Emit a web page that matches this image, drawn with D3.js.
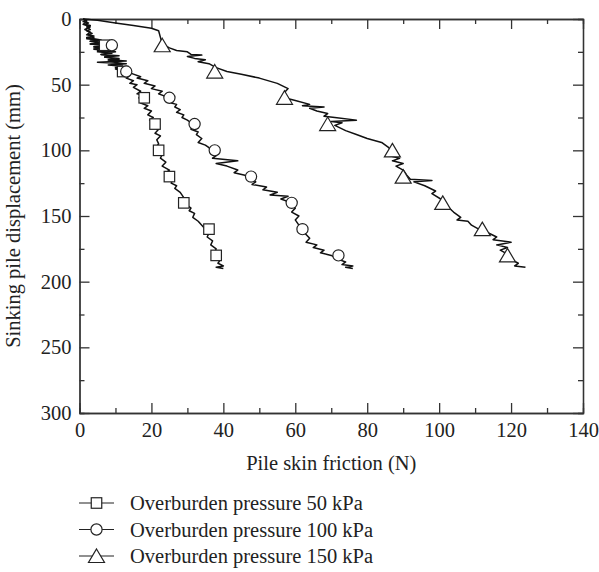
<!DOCTYPE html>
<html>
<head>
<meta charset="utf-8">
<script src="https://cdn.jsdelivr.net/npm/d3@7"></script>
<style>
body{margin:0;background:#fff;}
text{font-family:"Liberation Serif","Times New Roman",serif;fill:#222;}
</style>
</head>
<body>
<div id="canvas"></div>
<script>
var w = 599;
var h = 572;

// series labels
var seriesNames = ["Overburden pressure 50 kPa","Overburden pressure 100 kPa","Overburden pressure 150 kPa"];
var markerTypes = ["square","circle","triangle"];

// recorded curves: [skin friction (N), displacement (mm)]
var line50 = [[1,0],[2,1],[1,2],[2.5,3],[1.5,4],[3,5],[2,6],[3,8],[2,9],[3.5,11],[2.5,12],[4,14],[2,15],[5,16],[3,17],[6,18],[3,19],[7,20],[4,21],[8,22],[4,23],[8,24],[5,25],[9,26],[6,27],[9,28],[7,29],[11,31],[8,32],[12,34],[9,35],[12,36],[10,37],[12,40],[14,43],[13,45],[15,47],[14,49],[16,50],[15,52],[17,55],[16,57],[18,58],[16.5,60],[18,62],[17,64],[19,66],[18,68],[20,70],[19,73],[20.5,75],[19.5,77],[21,79],[20,82],[22,84],[21,87],[22.5,89],[21.5,92],[22,95],[21.5,97],[22,100],[23,103],[22.5,106],[24,109],[23,112],[25,115],[24,117],[25,120],[26,122],[25.5,125],[27,127],[26.5,129],[28,132],[29,136],[28.5,138],[29.5,141],[31,144],[30.5,146],[32,148],[31.5,151],[33,154],[34,157],[35,160],[36,163],[35.5,166],[37,169],[36.5,172],[38,175],[37.5,178],[38,181],[39,184],[38.5,186],[40,188],[38,189],[40,190]];
var line100 = [[1,0],[2,2],[1,4],[3,6],[1.5,8],[3,10],[2,12],[4,13],[2,14],[6,16],[3,17],[8,18],[3,19],[9,20],[4,22],[10,23],[5,24],[10,25],[6,27],[11,28],[7,29],[11,30],[8,31],[13,32],[5,33],[13,34],[8,35],[12,36],[10,38],[13,40],[15,42],[17,44],[16,45],[19,47],[18,49],[21,51],[20,53],[23,55],[22,57],[25,60],[26,62],[25.5,64],[27,65],[26.5,67],[28,69],[27,71],[29,73],[28.5,75],[30,77],[31,79],[32,81],[31,84],[33,86],[32.5,88],[34,91],[33,94],[35,96],[36,98],[37,101],[38,104],[37,106],[44,108],[38,110],[41,112],[44,115],[43,117],[46,119],[47.5,121],[49,124],[48,126],[52,128],[51,130],[55,132],[53,134],[58,135],[56,137],[59,140],[60,144],[59,147],[61,150],[60,153],[61,157],[62,161],[63,164],[64,167],[63,170],[66,172],[65,174],[68,176],[67,178],[70,180],[72,183],[74,185],[73,187],[76,188],[74,189],[76,190]];
var line150 = [[1,0],[5,1],[10,3],[15,5],[20,7],[22,9],[22.5,14],[23,19],[25,22],[27,24],[30,25],[31,27],[34,27.5],[30,28.5],[32,30],[35,31],[33,32.5],[36,34],[38,37],[41,40],[45,42],[50,45],[55,49],[58,53],[57,56],[57,60],[60,62],[64,65],[62,66],[68,67],[64,68],[66,70],[69,72],[68,74],[71,75],[77,77],[70,78],[73,79],[71,81],[74,85],[77,88],[80,91],[84,94],[86,98],[87,101],[86,104],[89,106],[87,108],[90,110],[88,112],[90,115],[91,119],[92,122],[98,123],[93,124],[96,127],[99,131],[98,133],[101,138],[102,142],[104,147],[106,151],[105,153],[108,154],[109,157],[111,160],[113,162],[116,166],[115,168],[120,170],[116,172],[119,174],[117,176],[119,179],[120,183],[122,186],[121,188],[124,189]];

// marker positions
var markerDisp = [20,40,60,80,100,120,140,160,180];
var marker50 = [7,12,18,21,22,25,29,36,38];
var marker100 = [9,13,25,32,37.6,47.7,59,62,72];
var marker150 = [23,37.6,57,69,87,90,101,112,119];

var xTicks = [0,20,40,60,80,100,120,140];
var yTicks = [0,50,100,150,200,250,300];

var svg = d3.select("#canvas").append("svg")
	.attr("width",w)
	.attr("height",h);

var mLeft = 79.5, mRight = 583, mTop = 19, mBottom = 413;
var fontSize = "20.5px";

var xScale = d3.scaleLinear().domain([0,140]).range([mLeft,mRight]);
var yScale = d3.scaleLinear().domain([0,300]).range([mTop,mBottom]);

var axisColor = "#333";

function styleAxis(g){
	g.selectAll("path").attr("stroke",axisColor).attr("stroke-width",1.3);
	g.selectAll("line").attr("stroke",axisColor).attr("stroke-width",1.3);
	g.selectAll("text").style("font-family","Liberation Serif, serif").style("font-size",fontSize).attr("fill","#222");
}

// minor ticks
var xMinor = d3.range(10,140,20);
var yMinor = d3.range(25,300,50);

svg.append("g").attr("transform","translate(0,"+mBottom+")")
	.call(d3.axisBottom(xScale).tickValues(xMinor).tickSize(-5).tickFormat(""))
	.call(styleAxis);
svg.append("g").attr("transform","translate(0,"+mTop+")")
	.call(d3.axisTop(xScale).tickValues(xMinor).tickSize(-5).tickFormat(""))
	.call(styleAxis);
svg.append("g").attr("transform","translate("+mLeft+",0)")
	.call(d3.axisLeft(yScale).tickValues(yMinor).tickSize(-5).tickFormat(""))
	.call(styleAxis);
svg.append("g").attr("transform","translate("+mRight+",0)")
	.call(d3.axisRight(yScale).tickValues(yMinor).tickSize(-5).tickFormat(""))
	.call(styleAxis);

// major ticks + labels
svg.append("g").attr("transform","translate(0,"+mBottom+")")
	.call(d3.axisBottom(xScale).tickValues(xTicks).tickSizeInner(-10).tickSizeOuter(0).tickPadding(9))
	.call(styleAxis);
svg.append("g").attr("transform","translate(0,"+mTop+")")
	.call(d3.axisTop(xScale).tickValues(xTicks).tickSizeInner(-10).tickSizeOuter(0).tickFormat(""))
	.call(styleAxis);
svg.append("g").attr("transform","translate("+mLeft+",0)")
	.call(d3.axisLeft(yScale).tickValues(yTicks).tickSizeInner(-10).tickSizeOuter(0).tickPadding(8))
	.call(styleAxis);
svg.append("g").attr("transform","translate("+mRight+",0)")
	.call(d3.axisRight(yScale).tickValues(yTicks).tickSizeInner(-10).tickSizeOuter(0).tickFormat(""))
	.call(styleAxis);

// axis titles
svg.append("text")
	.attr("x",(mLeft+mRight)/2)
	.attr("y",470)
	.attr("text-anchor","middle")
	.style("font-size",fontSize)
	.text("Pile skin friction (N)");
svg.append("text")
	.attr("transform","translate(20,"+((mTop+mBottom)/2)+") rotate(-90)")
	.attr("text-anchor","middle")
	.style("font-size",fontSize)
	.text("Sinking pile displacement (mm)");

// curves
var lineGen = d3.line()
	.x(function(d){ return xScale(d[0]); })
	.y(function(d){ return yScale(d[1]); });

var curves = [line50,line100,line150];
svg.selectAll("path.curve")
	.data(curves)
	.join("path")
	.attr("class","curve")
	.attr("d",lineGen)
	.attr("fill","none")
	.attr("stroke","#111")
	.attr("stroke-width",1.5)
	.attr("stroke-linejoin","round");

// markers
function drawMarker(g,type,cx,cy){
	if(type==="square"){
		g.append("rect").attr("x",cx-5.25).attr("y",cy-5.25).attr("width",10.5).attr("height",10.5);
	}else if(type==="circle"){
		g.append("circle").attr("cx",cx).attr("cy",cy).attr("r",5.6);
	}else{
		g.append("path").attr("d","M"+cx+","+(cy-7)+"L"+(cx+8)+","+(cy+6.5)+"L"+(cx-8)+","+(cy+6.5)+"Z");
	}
}

var markerSets = [marker50,marker100,marker150];
markerSets.forEach(function(set,i){
	var g = svg.append("g").attr("fill","#fff").attr("stroke","#222").attr("stroke-width",1.2);
	set.forEach(function(f,j){
		drawMarker(g,markerTypes[i],xScale(f),yScale(markerDisp[j]));
	});
});

// legend
var legend = svg.append("g");
seriesNames.forEach(function(name,i){
	var ly = 503 + i*26.5;
	legend.append("line").attr("x1",79).attr("x2",114).attr("y1",ly).attr("y2",ly)
		.attr("stroke","#222").attr("stroke-width",1.2);
	var g = legend.append("g").attr("fill","#fff").attr("stroke","#222").attr("stroke-width",1.2);
	drawMarker(g,markerTypes[i],96.5,ly);
	legend.append("text").attr("x",130).attr("y",ly+7)
		.style("font-size",fontSize)
		.text(name);
});
</script>
</body>
</html>
